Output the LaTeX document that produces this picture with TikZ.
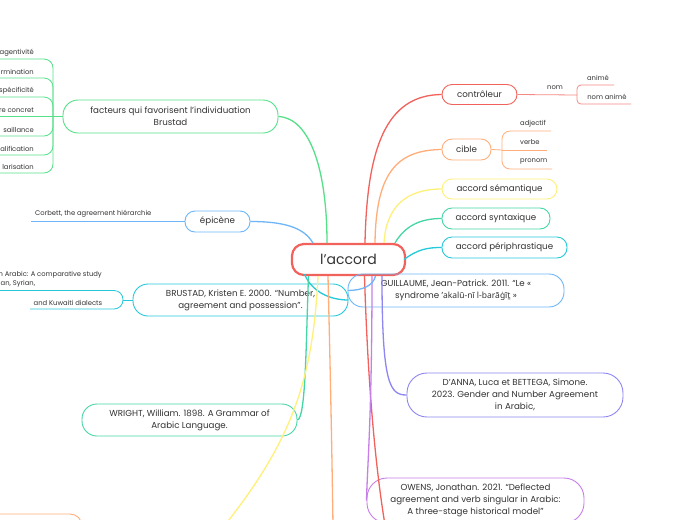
\documentclass[tikz,border=0pt]{standalone}
\usepackage{fontspec}
\setmainfont{Poppins}
\newfontfamily\notof{Noto Sans}
\definecolor{cred}{HTML}{F2625C}
\definecolor{corange}{HTML}{FFAE7A}
\definecolor{cyellow}{HTML}{FFF07A}
\definecolor{cgreen}{HTML}{55E08A}
\definecolor{cteal}{HTML}{45D6A5}
\definecolor{ccyan}{HTML}{26C9D9}
\definecolor{cblue}{HTML}{6EB6F7}
\definecolor{cviolet}{HTML}{8E86F2}
\definecolor{cpurple}{HTML}{C77FE8}
\definecolor{txt}{HTML}{333333}
\begin{document}
\begin{tikzpicture}[x=1pt,y=-1pt,
  box/.style={draw, line width=0.9pt, rounded corners=10pt, inner sep=0pt, align=center,
    font=\fontsize{8.7}{12}\selectfont, text=txt},
  conn/.style={line width=1.3pt},
  leafline/.style={line width=0.8pt},
  lbl/.style={font=\fontsize{6.8}{8.3}\selectfont, text=txt, inner sep=0pt}]
\useasboundingbox (0,0) rectangle (697,520);
\fill[white] (0,0) rectangle (697,520);

% ---------- nodes ----------
\node[box, draw=cred, line width=2.2pt, rounded corners=12pt, minimum width=113pt, minimum height=31pt,
  font=\fontsize{14}{16}\selectfont] (ctr) at (348.5,259.5) {l’accord};

\node[box, draw=cred, minimum width=75pt, minimum height=20pt] (ctrl) at (479.5,94.5) {contrôleur};
\node[box, draw=corange, minimum width=49pt, minimum height=21pt] (cible) at (466.5,149.5) {cible};
\node[box, draw=cyellow, minimum width=115pt, minimum height=20pt] (sem) at (499.5,189) {accord sémantique};
\node[box, draw=cteal, minimum width=108pt, minimum height=21pt] (syn) at (496,218.5) {accord syntaxique};
\node[box, draw=ccyan, minimum width=125pt, minimum height=21pt] (peri) at (504.5,247.5) {accord périphrastique};
\node[box, draw=cblue, rounded corners=15pt, minimum width=216pt, minimum height=33pt] (guil) at (456,290.5)
  {GUILLAUME, Jean-Patrick. 2011. “Le «\\ syndrome {\notof\fontsize{8.5}{12}\selectfont ʼakalū-nī l-barāġīṯ} »};
\node[box, draw=cviolet, rounded corners=20pt, minimum width=216pt, minimum height=44pt] (danna) at (515,395)
  {D’ANNA, Luca et BETTEGA, Simone.\\2023. Gender and Number Agreement\\in Arabic,};
\node[box, draw=cpurple, rounded corners=20pt, minimum width=217pt, minimum height=45pt] (owens) at (475.5,500.5)
  {OWENS, Jonathan. 2021. “Deflected\\agreement and verb singular in Arabic:\\A three-stage historical model”};

\node[box, draw=cgreen, rounded corners=15pt, minimum width=215pt, minimum height=33pt] (fact) at (170.5,116.5)
  {facteurs qui favorisent l’individuation\\Brustad};
\node[box, draw=cblue, minimum width=65pt, minimum height=21pt] (epi) at (217.5,221.5) {épicène};
\node[box, draw=ccyan, rounded corners=15pt, minimum width=215pt, minimum height=32pt] (brus) at (240.5,300)
  {BRUSTAD, Kristen E. 2000. “Number,\\agreement and possession”.};
\node[box, draw=cteal, rounded corners=15pt, minimum width=215pt, minimum height=32pt] (wright) at (189.5,420)
  {WRIGHT, William. 1898. A Grammar of\\Arabic Language.};
\node[box, draw=corange, rounded corners=12pt, minimum width=222pt, minimum height=46pt] (orbox) at (-29,537) {};

% ---------- main connectors ----------
\draw[conn,cred] ([xshift=16.5pt]ctr.north) .. controls (367,150) and (385,95) .. (ctrl.west);
\draw[conn,corange] ([xshift=26.5pt]ctr.north) .. controls (376,175) and (395,150) .. (cible.west);
\draw[conn,cyellow] ([xshift=35.5pt]ctr.north) .. controls (386,208) and (405,189) .. (sem.west);
\draw[conn,cteal] ([xshift=46.5pt]ctr.north) .. controls (405,226) and (420,218.5) .. (syn.west);
\draw[conn,ccyan] ([xshift=-2pt]ctr.east) .. controls (418,249) and (428,247.5) .. (peri.west);
\draw[conn,cgreen] (fact.east) .. controls (310,118) and (327,170) .. ([xshift=-21.5pt]ctr.north);
\draw[conn,cblue] (epi.east) .. controls (290,221.5) and (305,230) .. ([xshift=-35.5pt]ctr.north);
\draw[conn,ccyan] ([xshift=-44pt,yshift=2pt]ctr.south) .. controls (312,292) and (330,300) .. (brus.east);
\draw[conn,cteal] ([xshift=-40pt]ctr.south) .. controls (306,340) and (306,418) .. (wright.east);
\draw[conn,cyellow] ([xshift=-30.5pt]ctr.south) .. controls (313,380) and (292,440) .. (225,525);
\draw[conn,corange] ([xshift=-20.5pt]ctr.south) .. controls (331,400) and (332,460) .. (333,525);
\draw[conn,cred] ([xshift=16pt]ctr.south) .. controls (368,390) and (376,470) .. (385,525);
\draw[conn,cpurple] ([xshift=23.5pt]ctr.south) .. controls (372,420) and (367,470) .. (owens.west);
\draw[conn,cviolet] ([xshift=33.5pt]ctr.south) .. controls (382,385) and (390,395) .. (danna.west);
\draw[conn,cblue] (guil.west) .. controls (362,290.5) and (373,286) .. ([xshift=27pt]ctr.south);

% ---------- contrôleur subtree ----------
\coordinate (nomj) at (577,95);
\coordinate (animeE) at (614,85);
\coordinate (nanimeE) at (631,104);
\draw[leafline,cred!75] (ctrl.east) -- (nomj);
\draw[leafline,cred!75,rounded corners=4pt] (nomj) |- (animeE);
\draw[leafline,cred!75,rounded corners=4pt] (nomj) |- (nanimeE);
\node[lbl] (nom) at (555,87.5) {nom};
\node[lbl] (anime) at (598,77.5) {animé};
\node[lbl] (nanime) at (607,96.5) {nom animé};

% ---------- cible subtree ----------
\coordinate (cj) at (502,150);
\coordinate (adjE) at (551,131);
\coordinate (verE) at (547,150);
\coordinate (proE) at (552,169);
\draw[leafline,corange] (cible.east) -- (cj);
\draw[leafline,corange,rounded corners=8pt] (cj) |- (adjE);
\draw[leafline,corange] (cj) -- (verE);
\draw[leafline,corange,rounded corners=8pt] (cj) |- (proE);
\node[lbl,anchor=west] (adj) at (520,123.5) {adjectif};
\node[lbl,anchor=west] (verbe) at (520,142.5) {verbe};
\node[lbl,anchor=west] (pronom) at (520,161.5) {pronom};

% ---------- facteurs subtree ----------
\coordinate (fj) at (53,116.5);
\draw[leafline,cgreen] (fact.west) -- (fj);
\foreach \yy/\tt/\nm in {59/agentivité/fa,78/rmination/fb,97/spécificité/fc,136/saillance/fe,155/alification/ff,173/larisation/fg}{
  \coordinate (\nm e) at (-5,\yy);
  \draw[leafline,cgreen,rounded corners=9pt] (fj) |- (\nm e);
  \node[lbl,anchor=east] (\nm) at (34,\yy-6) {\tt};
}
\coordinate (fde) at (-5,116.5);
\draw[leafline,cgreen] (fj) -- (fde);
\node[lbl,anchor=east] (fd) at (34,110) {re concret};

% ---------- épicène subtree ----------
\coordinate (corbE) at (31,221.5);
\draw[leafline,cblue] (epi.west) -- (corbE);
\node[lbl,anchor=west] (corb) at (35,214) {Corbett, the agreement hiérarchie};

% ---------- BRUSTAD subtree ----------
\coordinate (bj) at (123,300);
\coordinate (b1e) at (-5,290.5);
\coordinate (b2e) at (30,309);
\draw[leafline,ccyan] (brus.west) -- (bj);
\draw[leafline,ccyan,rounded corners=9pt] (bj) |- (b1e);
\draw[leafline,ccyan,rounded corners=9pt] (bj) |- (b2e);
\node[lbl,anchor=east] (b1a) at (102,275) {n Arabic: A comparative study};
\node[lbl,anchor=west] (b1b) at (0.5,283.5) {an, Syrian,};
\node[lbl] (b2) at (68,303) {and Kuwaiti dialects};
\end{tikzpicture}
\end{document}
